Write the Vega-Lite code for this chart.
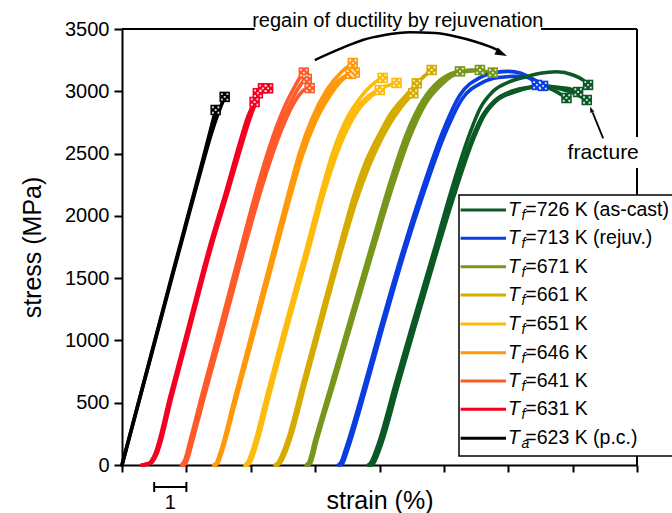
{
"$schema":"https://vega.github.io/schema/vega-lite/v6.json",
"width":515,"height":436,
"autosize":{"type":"none"},
"padding":{"left":122,"top":29,"right":35,"bottom":48},
"config":{"font":"Liberation Sans","view":{"stroke":null},"axis":{"labelFont":"Liberation Sans","titleFont":"Liberation Sans"}},
"datasets":{
"curves":[
{"s":"k1","g":"623","x":0,"y":0},{"s":"k1","g":"623","x":0.5,"y":490},{"s":"k1","g":"623","x":1,"y":980},{"s":"k1","g":"623","x":1.5,"y":1470},{"s":"k1","g":"623","x":2,"y":1955},{"s":"k1","g":"623","x":2.5,"y":2440},{"s":"k1","g":"623","x":2.91,"y":2850},
{"s":"k2","g":"623","x":0,"y":0},{"s":"k2","g":"623","x":0.5,"y":485},{"s":"k2","g":"623","x":1,"y":970},{"s":"k2","g":"623","x":1.5,"y":1455},{"s":"k2","g":"623","x":2,"y":1935},{"s":"k2","g":"623","x":2.5,"y":2410},{"s":"k2","g":"623","x":2.8,"y":2680},{"s":"k2","g":"623","x":3.0,"y":2830},{"s":"k2","g":"623","x":3.19,"y":2955},
{"s":"r1","g":"631","x":0.61,"y":0},{"s":"r1","g":"631","x":0.85,"y":16},{"s":"r1","g":"631","x":1.01,"y":80},{"s":"r1","g":"631","x":1.5,"y":560},{"s":"r1","g":"631","x":2.0,"y":1050},{"s":"r1","g":"631","x":2.69,"y":1726},{"s":"r1","g":"631","x":3.24,"y":2208},{"s":"r1","g":"631","x":3.65,"y":2580},{"s":"r1","g":"631","x":3.9,"y":2790},{"s":"r1","g":"631","x":4.12,"y":2914},
{"s":"r2","g":"631","x":0.65,"y":0},{"s":"r2","g":"631","x":0.89,"y":16},{"s":"r2","g":"631","x":1.05,"y":80},{"s":"r2","g":"631","x":1.54,"y":560},{"s":"r2","g":"631","x":2.04,"y":1050},{"s":"r2","g":"631","x":2.73,"y":1726},{"s":"r2","g":"631","x":3.28,"y":2208},{"s":"r2","g":"631","x":3.69,"y":2580},{"s":"r2","g":"631","x":3.95,"y":2800},{"s":"r2","g":"631","x":4.1,"y":2920},{"s":"r2","g":"631","x":4.22,"y":2984},
{"s":"r3","g":"631","x":0.63,"y":0},{"s":"r3","g":"631","x":0.87,"y":16},{"s":"r3","g":"631","x":1.03,"y":80},{"s":"r3","g":"631","x":1.52,"y":560},{"s":"r3","g":"631","x":2.02,"y":1050},{"s":"r3","g":"631","x":2.71,"y":1726},{"s":"r3","g":"631","x":3.26,"y":2208},{"s":"r3","g":"631","x":3.67,"y":2580},{"s":"r3","g":"631","x":3.95,"y":2810},{"s":"r3","g":"631","x":4.15,"y":2940},{"s":"r3","g":"631","x":4.28,"y":2995},{"s":"r3","g":"631","x":4.38,"y":3024},
{"s":"r4","g":"631","x":0.67,"y":0},{"s":"r4","g":"631","x":0.91,"y":16},{"s":"r4","g":"631","x":1.07,"y":80},{"s":"r4","g":"631","x":1.56,"y":560},{"s":"r4","g":"631","x":2.06,"y":1050},{"s":"r4","g":"631","x":2.75,"y":1726},{"s":"r4","g":"631","x":3.3,"y":2200},{"s":"r4","g":"631","x":3.72,"y":2570},{"s":"r4","g":"631","x":4.0,"y":2800},{"s":"r4","g":"631","x":4.2,"y":2930},{"s":"r4","g":"631","x":4.38,"y":3000},{"s":"r4","g":"631","x":4.54,"y":3024},
{"s":"or1","g":"641","x":1.85,"y":0},{"s":"or1","g":"641","x":1.95,"y":40},{"s":"or1","g":"641","x":2.1,"y":180},{"s":"or1","g":"641","x":2.5,"y":580},{"s":"or1","g":"641","x":3.0,"y":1060},{"s":"or1","g":"641","x":3.65,"y":1700},{"s":"or1","g":"641","x":4.28,"y":2300},{"s":"or1","g":"641","x":4.8,"y":2716},{"s":"or1","g":"641","x":5.11,"y":2910},{"s":"or1","g":"641","x":5.35,"y":3030},{"s":"or1","g":"641","x":5.55,"y":3120},{"s":"or1","g":"641","x":5.65,"y":3150},
{"s":"or2","g":"641","x":1.9,"y":0},{"s":"or2","g":"641","x":2.0,"y":40},{"s":"or2","g":"641","x":2.15,"y":180},{"s":"or2","g":"641","x":2.55,"y":570},{"s":"or2","g":"641","x":3.05,"y":1050},{"s":"or2","g":"641","x":3.7,"y":1690},{"s":"or2","g":"641","x":4.33,"y":2280},{"s":"or2","g":"641","x":4.85,"y":2690},{"s":"or2","g":"641","x":5.16,"y":2870},{"s":"or2","g":"641","x":5.4,"y":2990},{"s":"or2","g":"641","x":5.6,"y":3070},{"s":"or2","g":"641","x":5.74,"y":3100},
{"s":"or3","g":"641","x":1.93,"y":0},{"s":"or3","g":"641","x":2.03,"y":40},{"s":"or3","g":"641","x":2.18,"y":180},{"s":"or3","g":"641","x":2.58,"y":570},{"s":"or3","g":"641","x":3.08,"y":1040},{"s":"or3","g":"641","x":3.73,"y":1670},{"s":"or3","g":"641","x":4.37,"y":2250},{"s":"or3","g":"641","x":4.88,"y":2640},{"s":"or3","g":"641","x":5.19,"y":2830},{"s":"or3","g":"641","x":5.45,"y":2950},{"s":"or3","g":"641","x":5.65,"y":3010},{"s":"or3","g":"641","x":5.83,"y":3026},
{"s":"o1","g":"646","x":2.85,"y":0},{"s":"o1","g":"646","x":2.93,"y":16},{"s":"o1","g":"646","x":3.05,"y":100},{"s":"o1","g":"646","x":3.5,"y":540},{"s":"o1","g":"646","x":4.0,"y":1030},{"s":"o1","g":"646","x":4.74,"y":1760},{"s":"o1","g":"646","x":5.21,"y":2220},{"s":"o1","g":"646","x":5.52,"y":2510},{"s":"o1","g":"646","x":5.9,"y":2780},{"s":"o1","g":"646","x":6.36,"y":3010},{"s":"o1","g":"646","x":6.8,"y":3150},{"s":"o1","g":"646","x":7.17,"y":3227},
{"s":"o2","g":"646","x":2.9,"y":0},{"s":"o2","g":"646","x":2.98,"y":16},{"s":"o2","g":"646","x":3.1,"y":100},{"s":"o2","g":"646","x":3.55,"y":530},{"s":"o2","g":"646","x":4.05,"y":1010},{"s":"o2","g":"646","x":4.8,"y":1740},{"s":"o2","g":"646","x":5.27,"y":2190},{"s":"o2","g":"646","x":5.6,"y":2480},{"s":"o2","g":"646","x":6.0,"y":2750},{"s":"o2","g":"646","x":6.45,"y":2960},{"s":"o2","g":"646","x":6.8,"y":3080},{"s":"o2","g":"646","x":7.1,"y":3140},
{"s":"o3","g":"646","x":2.88,"y":0},{"s":"o3","g":"646","x":2.96,"y":16},{"s":"o3","g":"646","x":3.08,"y":100},{"s":"o3","g":"646","x":3.52,"y":535},{"s":"o3","g":"646","x":4.02,"y":1020},{"s":"o3","g":"646","x":4.77,"y":1750},{"s":"o3","g":"646","x":5.24,"y":2205},{"s":"o3","g":"646","x":5.56,"y":2495},{"s":"o3","g":"646","x":5.95,"y":2765},{"s":"o3","g":"646","x":6.4,"y":2985},{"s":"o3","g":"646","x":6.85,"y":3110},{"s":"o3","g":"646","x":7.23,"y":3150},
{"s":"y1","g":"651","x":3.82,"y":0},{"s":"y1","g":"651","x":3.9,"y":20},{"s":"y1","g":"651","x":4.05,"y":120},{"s":"y1","g":"651","x":4.5,"y":560},{"s":"y1","g":"651","x":5.0,"y":1050},{"s":"y1","g":"651","x":5.73,"y":1740},{"s":"y1","g":"651","x":6.2,"y":2200},{"s":"y1","g":"651","x":6.55,"y":2510},{"s":"y1","g":"651","x":6.8,"y":2680},{"s":"y1","g":"651","x":7.08,"y":2826},{"s":"y1","g":"651","x":7.35,"y":2930},{"s":"y1","g":"651","x":7.6,"y":3010},{"s":"y1","g":"651","x":7.85,"y":3070},{"s":"y1","g":"651","x":8.1,"y":3107},
{"s":"y2","g":"651","x":3.86,"y":0},{"s":"y2","g":"651","x":3.94,"y":20},{"s":"y2","g":"651","x":4.09,"y":120},{"s":"y2","g":"651","x":4.54,"y":560},{"s":"y2","g":"651","x":5.04,"y":1050},{"s":"y2","g":"651","x":5.77,"y":1740},{"s":"y2","g":"651","x":6.24,"y":2195},{"s":"y2","g":"651","x":6.6,"y":2500},{"s":"y2","g":"651","x":6.85,"y":2665},{"s":"y2","g":"651","x":7.12,"y":2800},{"s":"y2","g":"651","x":7.4,"y":2900},{"s":"y2","g":"651","x":7.7,"y":2970},{"s":"y2","g":"651","x":8.1,"y":3030},{"s":"y2","g":"651","x":8.53,"y":3067},
{"s":"y3","g":"651","x":3.9,"y":0},{"s":"y3","g":"651","x":3.98,"y":20},{"s":"y3","g":"651","x":4.13,"y":120},{"s":"y3","g":"651","x":4.58,"y":560},{"s":"y3","g":"651","x":5.08,"y":1050},{"s":"y3","g":"651","x":5.81,"y":1735},{"s":"y3","g":"651","x":6.28,"y":2185},{"s":"y3","g":"651","x":6.65,"y":2480},{"s":"y3","g":"651","x":6.9,"y":2640},{"s":"y3","g":"651","x":7.15,"y":2770},{"s":"y3","g":"651","x":7.4,"y":2870},{"s":"y3","g":"651","x":7.7,"y":2950},{"s":"y3","g":"651","x":8.01,"y":3010},
{"s":"d1","g":"661","x":4.75,"y":0},{"s":"d1","g":"661","x":4.85,"y":20},{"s":"d1","g":"661","x":5.0,"y":100},{"s":"d1","g":"661","x":5.21,"y":257},{"s":"d1","g":"661","x":5.6,"y":640},{"s":"d1","g":"661","x":6.2,"y":1220},{"s":"d1","g":"661","x":6.77,"y":1766},{"s":"d1","g":"661","x":7.2,"y":2160},{"s":"d1","g":"661","x":7.6,"y":2450},{"s":"d1","g":"661","x":8.0,"y":2660},{"s":"d1","g":"661","x":8.32,"y":2810},{"s":"d1","g":"661","x":8.94,"y":3000},{"s":"d1","g":"661","x":9.3,"y":3100},{"s":"d1","g":"661","x":9.62,"y":3171},
{"s":"d2","g":"661","x":4.8,"y":0},{"s":"d2","g":"661","x":4.9,"y":20},{"s":"d2","g":"661","x":5.05,"y":100},{"s":"d2","g":"661","x":5.26,"y":257},{"s":"d2","g":"661","x":5.65,"y":640},{"s":"d2","g":"661","x":6.25,"y":1220},{"s":"d2","g":"661","x":6.82,"y":1760},{"s":"d2","g":"661","x":7.25,"y":2140},{"s":"d2","g":"661","x":7.65,"y":2420},{"s":"d2","g":"661","x":8.0,"y":2620},{"s":"d2","g":"661","x":8.32,"y":2770},{"s":"d2","g":"661","x":8.7,"y":2920},{"s":"d2","g":"661","x":9.16,"y":3064},
{"s":"d3","g":"661","x":4.83,"y":0},{"s":"d3","g":"661","x":4.93,"y":20},{"s":"d3","g":"661","x":5.08,"y":100},{"s":"d3","g":"661","x":5.29,"y":257},{"s":"d3","g":"661","x":5.68,"y":640},{"s":"d3","g":"661","x":6.28,"y":1215},{"s":"d3","g":"661","x":6.85,"y":1750},{"s":"d3","g":"661","x":7.28,"y":2120},{"s":"d3","g":"661","x":7.68,"y":2400},{"s":"d3","g":"661","x":8.03,"y":2600},{"s":"d3","g":"661","x":8.33,"y":2740},{"s":"d3","g":"661","x":8.7,"y":2880},{"s":"d3","g":"661","x":9.05,"y":2984},
{"s":"l1","g":"671","x":5.72,"y":0},{"s":"l1","g":"671","x":5.8,"y":20},{"s":"l1","g":"671","x":5.99,"y":200},{"s":"l1","g":"671","x":6.5,"y":650},{"s":"l1","g":"671","x":7.0,"y":1095},{"s":"l1","g":"671","x":7.8,"y":1806},{"s":"l1","g":"671","x":8.32,"y":2264},{"s":"l1","g":"671","x":8.84,"y":2660},{"s":"l1","g":"671","x":9.35,"y":2930},{"s":"l1","g":"671","x":9.88,"y":3090},{"s":"l1","g":"671","x":10.2,"y":3140},{"s":"l1","g":"671","x":10.5,"y":3160},
{"s":"l2","g":"671","x":5.76,"y":0},{"s":"l2","g":"671","x":5.84,"y":20},{"s":"l2","g":"671","x":6.03,"y":200},{"s":"l2","g":"671","x":6.55,"y":650},{"s":"l2","g":"671","x":7.05,"y":1090},{"s":"l2","g":"671","x":7.85,"y":1795},{"s":"l2","g":"671","x":8.37,"y":2245},{"s":"l2","g":"671","x":8.9,"y":2640},{"s":"l2","g":"671","x":9.4,"y":2910},{"s":"l2","g":"671","x":9.9,"y":3070},{"s":"l2","g":"671","x":10.4,"y":3150},{"s":"l2","g":"671","x":10.8,"y":3170},{"s":"l2","g":"671","x":11.12,"y":3171},
{"s":"l3","g":"671","x":5.79,"y":0},{"s":"l3","g":"671","x":5.87,"y":20},{"s":"l3","g":"671","x":6.06,"y":200},{"s":"l3","g":"671","x":6.58,"y":650},{"s":"l3","g":"671","x":7.08,"y":1090},{"s":"l3","g":"671","x":7.88,"y":1790},{"s":"l3","g":"671","x":8.4,"y":2230},{"s":"l3","g":"671","x":8.93,"y":2625},{"s":"l3","g":"671","x":9.43,"y":2900},{"s":"l3","g":"671","x":9.95,"y":3060},{"s":"l3","g":"671","x":10.5,"y":3150},{"s":"l3","g":"671","x":11.0,"y":3165},{"s":"l3","g":"671","x":11.52,"y":3150},
{"s":"b1","g":"713","x":6.72,"y":0},{"s":"b1","g":"713","x":6.8,"y":20},{"s":"b1","g":"713","x":6.95,"y":130},{"s":"b1","g":"713","x":7.5,"y":610},{"s":"b1","g":"713","x":8.0,"y":1075},{"s":"b1","g":"713","x":8.73,"y":1726},{"s":"b1","g":"713","x":9.35,"y":2230},{"s":"b1","g":"713","x":9.97,"y":2680},{"s":"b1","g":"713","x":10.5,"y":2970},{"s":"b1","g":"713","x":11.12,"y":3110},{"s":"b1","g":"713","x":11.6,"y":3150},{"s":"b1","g":"713","x":12.0,"y":3160},{"s":"b1","g":"713","x":12.4,"y":3145},{"s":"b1","g":"713","x":12.7,"y":3100},{"s":"b1","g":"713","x":12.89,"y":3051},
{"s":"b2","g":"713","x":6.79,"y":0},{"s":"b2","g":"713","x":6.87,"y":20},{"s":"b2","g":"713","x":7.02,"y":130},{"s":"b2","g":"713","x":7.57,"y":610},{"s":"b2","g":"713","x":8.07,"y":1075},{"s":"b2","g":"713","x":8.8,"y":1726},{"s":"b2","g":"713","x":9.42,"y":2220},{"s":"b2","g":"713","x":10.04,"y":2660},{"s":"b2","g":"713","x":10.57,"y":2940},{"s":"b2","g":"713","x":11.19,"y":3070},{"s":"b2","g":"713","x":11.7,"y":3110},{"s":"b2","g":"713","x":12.2,"y":3120},{"s":"b2","g":"713","x":12.6,"y":3110},{"s":"b2","g":"713","x":12.9,"y":3080},{"s":"b2","g":"713","x":13.08,"y":3043},
{"s":"n1","g":"726","x":7.65,"y":0},{"s":"n1","g":"726","x":7.72,"y":16},{"s":"n1","g":"726","x":7.95,"y":160},{"s":"n1","g":"726","x":8.5,"y":660},{"s":"n1","g":"726","x":9.0,"y":1110},{"s":"n1","g":"726","x":9.75,"y":1770},{"s":"n1","g":"726","x":10.19,"y":2170},{"s":"n1","g":"726","x":10.81,"y":2665},{"s":"n1","g":"726","x":11.12,"y":2860},{"s":"n1","g":"726","x":11.53,"y":3000},{"s":"n1","g":"726","x":12.05,"y":3077},{"s":"n1","g":"726","x":12.57,"y":3117},{"s":"n1","g":"726","x":12.99,"y":3144},{"s":"n1","g":"726","x":13.51,"y":3157},{"s":"n1","g":"726","x":14.01,"y":3131},{"s":"n1","g":"726","x":14.32,"y":3091},{"s":"n1","g":"726","x":14.48,"y":3051},
{"s":"n2","g":"726","x":7.71,"y":0},{"s":"n2","g":"726","x":7.78,"y":16},{"s":"n2","g":"726","x":8.01,"y":160},{"s":"n2","g":"726","x":8.56,"y":660},{"s":"n2","g":"726","x":9.06,"y":1110},{"s":"n2","g":"726","x":9.81,"y":1770},{"s":"n2","g":"726","x":10.25,"y":2150},{"s":"n2","g":"726","x":10.87,"y":2620},{"s":"n2","g":"726","x":11.19,"y":2800},{"s":"n2","g":"726","x":11.6,"y":2930},{"s":"n2","g":"726","x":12.1,"y":3000},{"s":"n2","g":"726","x":12.6,"y":3030},{"s":"n2","g":"726","x":13.07,"y":3037},{"s":"n2","g":"726","x":13.4,"y":3010},{"s":"n2","g":"726","x":13.81,"y":2946},
{"s":"n3","g":"726","x":7.75,"y":0},{"s":"n3","g":"726","x":7.82,"y":16},{"s":"n3","g":"726","x":8.05,"y":160},{"s":"n3","g":"726","x":8.6,"y":660},{"s":"n3","g":"726","x":9.1,"y":1110},{"s":"n3","g":"726","x":9.85,"y":1770},{"s":"n3","g":"726","x":10.29,"y":2140},{"s":"n3","g":"726","x":10.91,"y":2610},{"s":"n3","g":"726","x":11.22,"y":2790},{"s":"n3","g":"726","x":11.62,"y":2920},{"s":"n3","g":"726","x":12.15,"y":2990},{"s":"n3","g":"726","x":12.7,"y":3030},{"s":"n3","g":"726","x":13.1,"y":3040},{"s":"n3","g":"726","x":13.6,"y":3030},{"s":"n3","g":"726","x":13.9,"y":3020},{"s":"n3","g":"726","x":14.17,"y":2994},
{"s":"n4","g":"726","x":7.73,"y":0},{"s":"n4","g":"726","x":7.8,"y":16},{"s":"n4","g":"726","x":8.03,"y":160},{"s":"n4","g":"726","x":8.58,"y":660},{"s":"n4","g":"726","x":9.08,"y":1110},{"s":"n4","g":"726","x":9.83,"y":1770},{"s":"n4","g":"726","x":10.27,"y":2145},{"s":"n4","g":"726","x":10.89,"y":2615},{"s":"n4","g":"726","x":11.2,"y":2795},{"s":"n4","g":"726","x":11.6,"y":2925},{"s":"n4","g":"726","x":12.15,"y":2995},{"s":"n4","g":"726","x":12.7,"y":3035},{"s":"n4","g":"726","x":13.1,"y":3045},{"s":"n4","g":"726","x":13.6,"y":3020},{"s":"n4","g":"726","x":14.0,"y":2990},{"s":"n4","g":"726","x":14.44,"y":2930}
],
"ends":[
{"g":"623","x":2.91,"y":2850},{"g":"623","x":3.19,"y":2955},
{"g":"631","x":4.12,"y":2914},{"g":"631","x":4.22,"y":2984},{"g":"631","x":4.38,"y":3024},{"g":"631","x":4.54,"y":3024},
{"g":"641","x":5.65,"y":3150},{"g":"641","x":5.74,"y":3100},{"g":"641","x":5.83,"y":3026},
{"g":"646","x":7.17,"y":3227},{"g":"646","x":7.1,"y":3140},{"g":"646","x":7.23,"y":3150},
{"g":"651","x":8.1,"y":3107},{"g":"651","x":8.53,"y":3067},{"g":"651","x":8.01,"y":3010},
{"g":"661","x":9.62,"y":3171},{"g":"661","x":9.16,"y":3064},{"g":"661","x":9.05,"y":2984},
{"g":"671","x":10.5,"y":3160},{"g":"671","x":11.12,"y":3171},{"g":"671","x":11.52,"y":3150},
{"g":"713","x":12.89,"y":3051},{"g":"713","x":13.08,"y":3043},
{"g":"726","x":14.48,"y":3051},{"g":"726","x":13.81,"y":2946},{"g":"726","x":14.17,"y":2994},{"g":"726","x":14.44,"y":2930}
],
"legend":[
{"g":"726","ly":2047,"sub":"f","lab":"=726 K (as-cast)"},
{"g":"713","ly":1820,"sub":"f","lab":"=713 K (rejuv.)"},
{"g":"671","ly":1592,"sub":"f","lab":"=671 K"},
{"g":"661","ly":1365,"sub":"f","lab":"=661 K"},
{"g":"651","ly":1132,"sub":"f","lab":"=651 K"},
{"g":"646","ly":901,"sub":"f","lab":"=646 K"},
{"g":"641","ly":674,"sub":"f","lab":"=641 K"},
{"g":"631","ly":447,"sub":"f","lab":"=631 K"},
{"g":"623","ly":214,"sub":"a","lab":"=623 K (p.c.)"}
],
"frame":[
{"x":0,"y":3500,"x2":4.12,"y2":3500},
{"x":13.02,"y":3500,"x2":16,"y2":3500},
{"x":16,"y":3500,"x2":16,"y2":2633},
{"x":16,"y":2384,"x2":16,"y2":0}
],
"bar":[
{"x":1,"y":-177,"x2":2,"y2":-177},
{"x":1,"y":-136,"x2":1,"y2":-217},
{"x":2,"y":-136,"x2":2,"y2":-217}
],
"arc":[
{"x":5.99,"y":3251},{"x":6.77,"y":3340},{"x":7.48,"y":3412},{"x":8.16,"y":3452},{"x":8.94,"y":3474},{"x":9.72,"y":3468},{"x":10.4,"y":3438},{"x":10.96,"y":3400},{"x":11.43,"y":3358},{"x":11.74,"y":3323}
],
"farrow":[
{"x":14.95,"y":2622},{"x":14.62,"y":2830}
]
},
"layer":[
{"data":{"name":"curves"},"mark":{"type":"line","strokeWidth":3.6,"strokeJoin":"round","strokeCap":"round","interpolate":"monotone"},
 "encoding":{
  "x":{"field":"x","type":"quantitative","scale":{"domain":[0,16],"nice":false,"zero":false},
   "axis":{"title":"strain (%)","values":[0,0.5,1,1.5,2,2.5,3,3.5,4,4.5,5,5.5,6,6.5,7,7.5,8,8.5,9,9.5,10,10.5,11,11.5,12,12.5,13,13.5,14,14.5,15,15.5,16],"labels":false,"grid":false,"domain":true,"ticks":true,"domainColor":"black","domainWidth":2,"tickColor":"black","tickWidth":2,"tickSize":{"condition":{"test":"datum.value % 1 === 0","value":7},"value":4},"titleFontSize":25,"titleFontWeight":"normal","titleColor":"black","titlePadding":15}},
  "y":{"field":"y","type":"quantitative","scale":{"domain":[0,3500],"nice":false,"zero":false},
   "axis":{"title":"stress (MPa)","values":[0,250,500,750,1000,1250,1500,1750,2000,2250,2500,2750,3000,3250,3500],"format":"d","labelExpr":"datum.value % 500 === 0 ? datum.label : ''","labelOverlap":false,"labelFlush":false,"labelFontSize":20,"labelColor":"black","labelPadding":5,"grid":false,"domain":true,"ticks":true,"domainColor":"black","domainWidth":2,"tickColor":"black","tickWidth":2,"tickSize":{"condition":{"test":"datum.value % 500 === 0","value":8},"value":4},"titleFontSize":25,"titleFontWeight":"normal","titleColor":"black","titlePadding":19}},
  "color":{"field":"g","type":"nominal","legend":null,"scale":{"domain":["726","713","671","661","651","646","641","631","623"],"range":["#0b5a26","#0a3ee0","#78961c","#d6ab00","#fdbb0c","#ff990a","#ff5a2a","#f50022","#000000"]}},
  "detail":{"field":"s","type":"nominal"}}},
{"data":{"name":"frame"},"mark":{"type":"rule","color":"black","strokeWidth":2},
 "encoding":{"x":{"field":"x","type":"quantitative"},"y":{"field":"y","type":"quantitative"},"x2":{"field":"x2"},"y2":{"field":"y2"}}},
{"data":{"name":"ends"},"mark":{"type":"point","shape":"square","filled":true,"opacity":1,"size":110},
 "encoding":{"x":{"field":"x","type":"quantitative"},"y":{"field":"y","type":"quantitative"},"color":{"field":"g","type":"nominal","legend":null}}},
{"data":{"name":"ends"},"mark":{"type":"point","shape":"M-0.7,-0.7h0.35v0.35h-0.35z M0.35,-0.7h0.35v0.35h-0.35z M-0.7,0.35h0.35v0.35h-0.35z M0.35,0.35h0.35v0.35h-0.35z M-0.175,-0.175h0.35v0.35h-0.35z","filled":true,"color":"white","opacity":0.85,"size":110},
 "encoding":{"x":{"field":"x","type":"quantitative"},"y":{"field":"y","type":"quantitative"}}},
{"data":{"values":[{}]},"mark":{"type":"rect","fill":"white","stroke":"black","strokeWidth":1.5},
 "encoding":{"x":{"datum":10.47,"type":"quantitative"},"x2":{"datum":17.6},"y":{"datum":72,"type":"quantitative"},"y2":{"datum":2167}}},
{"data":{"name":"legend"},"mark":{"type":"rule","strokeWidth":3},
 "encoding":{"x":{"datum":10.52,"type":"quantitative"},"x2":{"datum":11.93},"y":{"field":"ly","type":"quantitative"},"color":{"field":"g","type":"nominal","legend":null}}},
{"data":{"name":"legend"},"mark":{"type":"text","text":"T","fontStyle":"italic","fontSize":19.5,"align":"left","baseline":"middle","color":"black"},
 "encoding":{"x":{"datum":11.99,"type":"quantitative"},"y":{"field":"ly","type":"quantitative"}}},
{"data":{"name":"legend"},"mark":{"type":"text","fontStyle":"italic","fontSize":14,"align":"left","baseline":"middle","dy":6,"color":"black"},
 "encoding":{"x":{"datum":12.41,"type":"quantitative"},"y":{"field":"ly","type":"quantitative"},"text":{"field":"sub"}}},
{"data":{"name":"legend"},"mark":{"type":"text","fontSize":19.5,"align":"left","baseline":"middle","color":"black"},
 "encoding":{"x":{"datum":12.53,"type":"quantitative"},"y":{"field":"ly","type":"quantitative"},"text":{"field":"lab"}}},
{"data":{"name":"arc"},"mark":{"type":"line","color":"black","strokeWidth":2.5,"interpolate":"monotone"},
 "encoding":{"x":{"field":"x","type":"quantitative"},"y":{"field":"y","type":"quantitative"}}},
{"data":{"values":[{}]},"mark":{"type":"point","shape":"M0,0L-2,-0.65L-2,0.65Z","filled":true,"color":"black","opacity":1,"size":144,"angle":25},
 "encoding":{"x":{"datum":11.96,"type":"quantitative"},"y":{"datum":3283,"type":"quantitative"}}},
{"data":{"name":"farrow"},"mark":{"type":"line","color":"black","strokeWidth":1.8},
 "encoding":{"x":{"field":"x","type":"quantitative"},"y":{"field":"y","type":"quantitative"}}},
{"data":{"values":[{}]},"mark":{"type":"point","shape":"M0,0L-2,-0.7L-2,0.7Z","filled":true,"color":"black","opacity":1,"size":36,"angle":247},
 "encoding":{"x":{"datum":14.54,"type":"quantitative"},"y":{"datum":2876,"type":"quantitative"}}},
{"data":{"values":[{}]},"mark":{"type":"text","text":"regain of ductility by rejuvenation","fontSize":20,"align":"center","baseline":"alphabetic","color":"black"},
 "encoding":{"x":{"datum":8.57,"type":"quantitative"},"y":{"datum":3520,"type":"quantitative"}}},
{"data":{"values":[{}]},"mark":{"type":"text","text":"fracture","fontSize":21,"align":"center","baseline":"middle","color":"black"},
 "encoding":{"x":{"datum":14.95,"type":"quantitative"},"y":{"datum":2505,"type":"quantitative"}}},
{"data":{"name":"bar"},"mark":{"type":"rule","color":"black","strokeWidth":2},
 "encoding":{"x":{"field":"x","type":"quantitative"},"y":{"field":"y","type":"quantitative"},"x2":{"field":"x2"},"y2":{"field":"y2"}}},
{"data":{"values":[{}]},"mark":{"type":"text","text":"1","fontSize":20,"align":"center","baseline":"middle","color":"black"},
 "encoding":{"x":{"datum":1.5,"type":"quantitative"},"y":{"datum":-309,"type":"quantitative"}}}
]
}
